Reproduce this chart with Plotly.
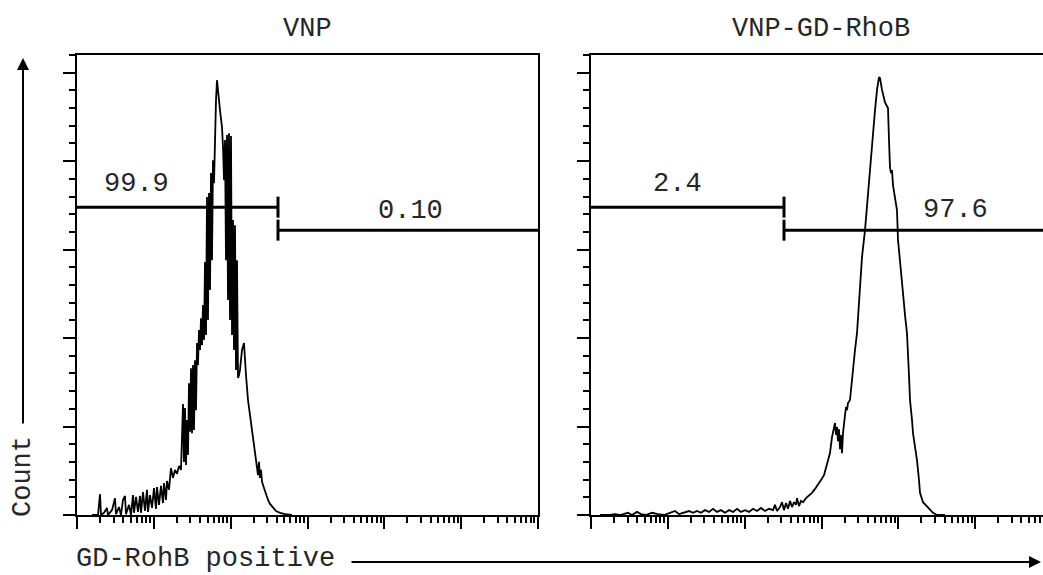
import numpy as np
import plotly.graph_objects as go

# Log-scaled fluorescence axis: histogram channels spread over six decades
DECADES = 6
N_CHANNELS = 461

panel_titles = ["VNP", "VNP-GD-RhoB"]
x_label = "GD-RohB positive"
y_label = "Count"

# VNP histogram (channel, count)
vnp_channel = [15, 21, 23, 24, 27, 30, 31, 35, 38, 39, 42, 44, 46, 48, 49, 52, 54, 56, 57, 59,
               61, 63, 64, 66, 68, 70, 71, 73, 75, 77, 79, 80, 82, 84, 86, 87, 89, 90, 92, 94,
               96, 98, 100, 102, 104, 105, 106, 107, 108, 109, 110, 111, 112, 113, 114, 115,
               116, 117, 118, 119, 120, 121, 122, 123, 124, 125, 126, 127, 128, 129, 130, 131,
               132, 133, 134, 135, 136, 137, 138, 139, 140, 141, 142, 143, 144, 145, 146, 147,
               148, 149, 150, 151, 152, 153, 154, 155, 156, 157, 158, 159, 160, 161, 162, 163,
               165, 167, 169, 171, 173, 175, 177, 179, 180, 181, 182, 183, 184, 185, 187, 189,
               191, 193, 196, 199, 203, 208, 215]
vnp_count = [0, 0, 4.7, 0, 0.5, 1.6, 0, 1.1, 3.8, 0.2, 1.8, 0, 3.4, 4.3, 0.2, 2.3, 0, 4.5, 0.5, 4.1,
             0.7, 4.3, 0.5, 5.2, 0.9, 5.7, 0.7, 4.5, 1.6, 6.1, 1.4, 6.3, 2.3, 6.6, 2.7, 7.2, 3.4, 7.7, 5.7, 10.6,
             8.4, 10.2, 9.3, 11.1, 10.2, 17.0, 25.1, 12.0, 24.2, 11.3, 21.5, 13.6, 29.8, 18.8, 33.2, 18.5,
             33.9, 19.2, 35.0, 23.7, 38.9, 33.9, 41.8, 37.3, 44.5, 38.4, 47.5, 39.6, 57.2, 40.7, 71.9, 44.1,
             72.8, 50.9, 77.3, 57.6, 80.2, 75.0, 88.1, 93.8, 98.3, 96.5, 93.8, 91.5, 89.3, 87.7, 83.2, 75.7,
             84.8, 57.6, 85.9, 48.6, 86.3, 44.1, 85.7, 40.7, 66.7, 37.3, 65.5, 32.8, 57.6, 31.0, 31.6, 32.8,
             37.3, 38.9, 31.6, 26.0, 22.6, 19.2, 17.0, 12.9, 11.3, 9.0, 12.0, 8.4, 10.2, 7.5, 6.1, 4.5,
             3.4, 2.5, 1.6, 0.9, 0.5, 0.2, 0]

# VNP-GD-RhoB histogram (channel, count)
rhob_channel = [9, 19, 24, 29, 37, 41, 46, 50, 55, 61, 67, 73, 79, 84, 88, 93, 98, 102, 106, 110,
                114, 118, 122, 126, 130, 134, 138, 142, 146, 150, 154, 158, 162, 166, 170, 174, 178,
                182, 184, 186, 189, 191, 193, 195, 197, 199, 201, 203, 205, 206, 208, 210, 212, 215,
                218, 221, 224, 227, 230, 233, 235, 237, 239, 241, 243, 244, 245, 246, 247, 248, 249,
                250, 251, 252, 254, 255, 256, 257, 259, 262, 264, 266, 268, 271, 274, 276, 279, 281,
                284, 286, 288, 289, 291, 294, 297, 298, 299, 300, 301, 302, 304, 306, 307, 309, 311,
                312, 314, 316, 318, 319, 321, 322, 324, 326, 328, 329, 332, 337, 342, 346, 354]
rhob_count = [0, 0, 0.2, 0, 0.5, 0, 0.7, 0.2, 0, 0.5, 0.2, 0, 0.5, 0.9, 0.2, 0.5, 0.9, 0.5, 0.9, 0.5,
              1.1, 0.7, 1.4, 0.7, 1.1, 0.5, 1.1, 0.7, 1.4, 0.7, 1.1, 0.7, 1.4, 0.9, 1.6, 0.9, 1.4,
              1.1, 2.3, 0.9, 1.8, 2.9, 1.1, 2.7, 1.4, 3.2, 1.8, 2.9, 2.3, 3.8, 2.0, 3.2, 2.9, 3.8,
              4.3, 5.0, 5.9, 6.8, 7.9, 9.0, 10.8, 12.4, 14.0, 17.6, 19.9, 20.8, 18.1, 19.9, 16.7, 19.4, 14.9,
              18.1, 14.0, 18.5, 22.6, 24.4, 23.7, 25.3, 26.0, 33.4, 37.3, 41.1, 48.6, 58.3, 64.4, 70.1, 79.1, 83.6,
              91.5, 96.1, 99.0, 98.8, 96.1, 93.3, 92.0, 84.8, 78.6, 77.3, 78.0, 74.6, 71.9, 68.9, 62.2, 57.6, 54.2,
              50.2, 45.2, 41.1, 31.6, 26.0, 21.5, 18.5, 15.4, 12.4, 7.9, 5.0, 2.9, 1.8, 0.5, 0, 0]

# Marker gates: split channel per panel, bar heights, and event percentages
gate_split = [201, 193]
gate_level_neg = 69.6
gate_level_pos = 64.4
gate_pct = [["99.9", "0.10"], ["2.4", "97.6"]]

FONT = "Liberation Mono"
INK = "#262626"


def to_intensity(ch):
    return 10 ** (np.asarray(ch, dtype=float) * DECADES / N_CHANNELS)


W, H = 1043, 575
fig = go.Figure()

series = [(vnp_channel, vnp_count), (rhob_channel, rhob_count)]
for i, (ch, cnt) in enumerate(series):
    xa = "x" if i == 0 else "x2"
    ya = "y" if i == 0 else "y2"
    fig.add_trace(go.Scatter(x=to_intensity(ch), y=cnt, mode="lines",
                             line=dict(color="black", width=1.8),
                             xaxis=xa, yaxis=ya, hoverinfo="skip"))
    split = to_intensity([gate_split[i]])[0]
    # negative gate bar
    fig.add_trace(go.Scatter(x=[1, split], y=[gate_level_neg, gate_level_neg], mode="lines",
                             line=dict(color="black", width=3), xaxis=xa, yaxis=ya))
    # positive gate bar
    fig.add_trace(go.Scatter(x=[split, 10 ** DECADES], y=[gate_level_pos, gate_level_pos],
                             mode="lines", line=dict(color="black", width=3),
                             xaxis=xa, yaxis=ya))
    # end caps at the split point
    fig.add_trace(go.Scatter(x=[split, split], y=[gate_level_neg, gate_level_pos], mode="markers",
                             marker=dict(symbol="line-ns", size=15,
                                         line=dict(color="black", width=3)),
                             xaxis=xa, yaxis=ya))

axis_common = dict(showline=True, linecolor="black", linewidth=2, showgrid=False,
                   zeroline=False, showticklabels=False, ticks="outside",
                   tickcolor="black", ticklen=12, tickwidth=2)

left_dom = [77 / W, 538 / W]
right_dom = [591 / W, 1.0]
right_span = DECADES * (W - 591) / (538 - 77)

xminor = dict(ticks="outside", ticklen=6, tickwidth=1.5, tickcolor="black",
              dtick="D1", showgrid=False)
yminor = dict(ticks="outside", ticklen=6, tickwidth=1.5, tickcolor="black",
              dtick=4, showgrid=False)

fig.update_layout(
    width=W, height=H,
    margin=dict(l=0, r=0, t=55, b=60),
    paper_bgcolor="white", plot_bgcolor="white",
    showlegend=False,
    xaxis=dict(axis_common, domain=left_dom, type="log", range=[0, DECADES], dtick=1,
               mirror=True, anchor="y", minor=xminor),
    xaxis2=dict(axis_common, domain=right_dom, type="log", range=[0, right_span], dtick=1,
                mirror=True, anchor="y2", minor=xminor),
    yaxis=dict(axis_common, domain=[0, 1], range=[0, 104], dtick=20, mirror=True,
               anchor="x", minor=yminor),
    yaxis2=dict(axis_common, domain=[0, 1], range=[0, 104], dtick=20, mirror=False,
                anchor="x2", minor=yminor),
)

txt = dict(family=FONT, size=27, color=INK)
ann = []
# panel titles
for dom, title in zip([left_dom, [591 / W, 1052 / W]], panel_titles):
    ann.append(dict(text=title, xref="paper", yref="paper", x=(dom[0] + dom[1]) / 2,
                    y=(515 - 29) / 460, showarrow=False, font=txt,
                    xanchor="center", yanchor="middle"))

# gate percentages
label_pos = [[(0.78, 74.8), (4.34, 68.7)], [(1.12, 74.8), (4.74, 69.0)]]
for i in range(2):
    xr = "x" if i == 0 else "x2"
    yr = "y" if i == 0 else "y2"
    for (lx, ly), pct in zip(label_pos[i], gate_pct[i]):
        ann.append(dict(text=pct, xref=xr, yref=yr, x=lx, y=ly, showarrow=False,
                        font=txt, xanchor="center", yanchor="middle"))

# axis labels with arrows
ann.append(dict(text=y_label, xref="paper", yref="paper", x=23 / W, y=(515 - 477) / 460,
                textangle=-90, showarrow=False, font=txt,
                xanchor="center", yanchor="middle"))
ann.append(dict(text="", xref="paper", yref="paper", x=23 / W, y=(515 - 58) / 460,
                ax=0, ay=367, showarrow=True, arrowhead=2, arrowsize=1.2,
                arrowwidth=2, arrowcolor="black"))
ann.append(dict(text=x_label, xref="paper", yref="paper", x=205 / W, y=(515 - 559) / 460,
                showarrow=False, font=txt, xanchor="center", yanchor="middle"))
ann.append(dict(text="", xref="paper", yref="paper", x=1041 / W, y=(515 - 562) / 460,
                ax=-691, ay=0, showarrow=True, arrowhead=2, arrowsize=1.2,
                arrowwidth=2, arrowcolor="black"))
fig.update_layout(annotations=ann)

fig.write_html("out.html")
